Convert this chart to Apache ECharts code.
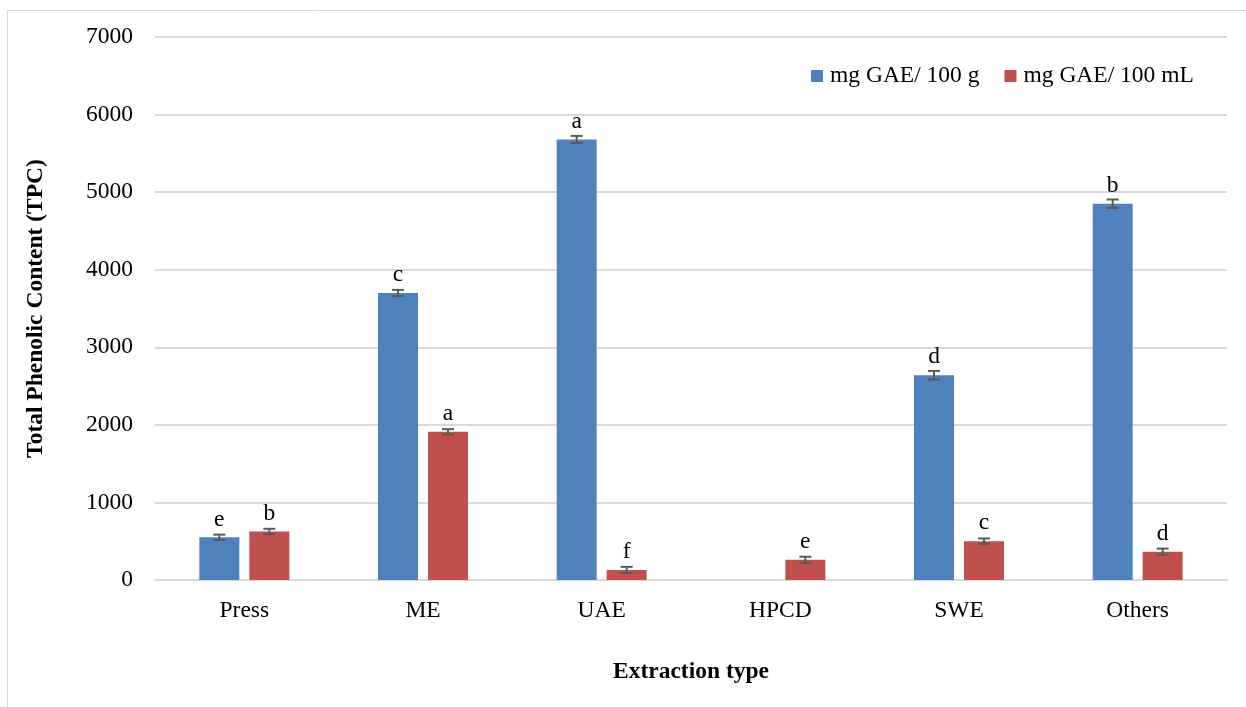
<!DOCTYPE html>
<html>
<head>
<meta charset="utf-8">
<script src="https://cdn.jsdelivr.net/npm/echarts@6/dist/echarts.min.js"></script>
<style>
  html, body { margin: 0; padding: 0; background: #fff; }
  #chart { width: 1246px; height: 707px; }
</style>
</head>
<body>
<div id="chart"></div>
<script>
// Extraction methods on the category axis
const categories = ['Press', 'ME', 'UAE', 'HPCD', 'SWE', 'Others'];

// Total phenolic content per method (null = not measured)
const perGram = [550, 3700, 5680, null, 2640, 4850];     // mg GAE/ 100 g
const perMl = [625, 1910, 130, 260, 500, 365];           // mg GAE/ 100 mL

// Standard deviations for the error bars
const perGramErr = [35, 40, 45, null, 55, 55];
const perMlErr = [35, 35, 40, 40, 35, 40];

// Significance letters above each bar
const perGramLetters = ['e', 'c', 'a', '', 'd', 'b'];
const perMlLetters = ['b', 'a', 'f', 'e', 'c', 'd'];

// Value axis ticks
const yMin = 0, yMax = 7000, yStep = 1000;

const seriesNames = ['mg GAE/ 100 g', 'mg GAE/ 100 mL'];

const FONT = '"Liberation Serif", "Times New Roman", serif';
const FS = 23.5;
const BAR_W = 40;
const BAR_GAP = 10;
const OFFSET = (BAR_W + BAR_GAP) / 2;

function errData(vals, errs) {
  return vals.map((v, i) => (v == null || errs[i] == null) ? [i, '-', '-'] : [i, v, errs[i]]);
}

function errorBar(shift) {
  return function (params, api) {
    const v = api.value(1), e = api.value(2);
    if (isNaN(v) || isNaN(e)) return null;
    const idx = api.value(0);
    const hi = api.coord([idx, v + e]);
    const lo = api.coord([idx, v - e]);
    const x = hi[0] + shift;
    const cap = 6;
    const style = { stroke: '#595959', lineWidth: 2 };
    return {
      type: 'group',
      children: [
        { type: 'line', shape: { x1: x, y1: hi[1], x2: x, y2: lo[1] }, style },
        { type: 'line', shape: { x1: x - cap, y1: hi[1], x2: x + cap, y2: hi[1] }, style },
        { type: 'line', shape: { x1: x - cap, y1: lo[1], x2: x + cap, y2: lo[1] }, style }
      ]
    };
  };
}

function letterLabel(letters) {
  return {
    show: true,
    position: 'top',
    distance: 6,
    fontFamily: FONT,
    fontSize: FS,
    color: '#000',
    formatter: p => letters[p.dataIndex] || ''
  };
}

const chart = echarts.init(document.getElementById('chart'), null, { renderer: 'canvas' });

chart.setOption({
  animation: false,
  backgroundColor: '#fff',
  graphic: [{
    type: 'rect',
    shape: { x: 7.5, y: 10.5, width: 1400, height: 900 },
    style: { fill: 'none', stroke: '#d9d9d9', lineWidth: 1 },
    silent: true
  }],
  legend: {
    data: seriesNames,
    left: 811,
    top: 64,
    padding: 0,
    icon: 'rect',
    itemWidth: 12,
    itemHeight: 12,
    itemGap: 25,
    textStyle: { fontFamily: FONT, fontSize: FS, color: '#000', padding: [0, 0, 0, 2] }
  },
  grid: { left: 155, right: 19, top: 37, bottom: 127, containLabel: false },
  xAxis: {
    type: 'category',
    data: categories,
    name: 'Extraction type',
    nameLocation: 'middle',
    nameGap: 80,
    nameTextStyle: { fontFamily: FONT, fontSize: FS, fontWeight: 'bold', color: '#000' },
    axisLine: { show: true, lineStyle: { color: '#d9d9d9', width: 2 } },
    axisTick: { show: false },
    axisLabel: { fontFamily: FONT, fontSize: FS, color: '#000', margin: 19 }
  },
  yAxis: {
    type: 'value',
    min: yMin,
    max: yMax,
    interval: yStep,
    name: 'Total Phenolic Content (TPC)',
    nameLocation: 'middle',
    nameGap: 107,
    nameTextStyle: { fontFamily: FONT, fontSize: FS, fontWeight: 'bold', color: '#000' },
    axisLine: { show: false },
    axisTick: { show: false },
    axisLabel: {
      fontFamily: FONT, fontSize: FS, color: '#000', margin: 22,
      formatter: v => String(v)
    },
    splitLine: { show: true, lineStyle: { color: '#d9d9d9', width: 2 } }
  },
  series: [
    {
      name: seriesNames[0],
      type: 'bar',
      data: perGram.map(v => v == null ? '-' : v),
      barWidth: BAR_W,
      barGap: (BAR_GAP / BAR_W * 100) + '%',
      itemStyle: { color: '#4f81bd' },
      label: letterLabel(perGramLetters),
      z: 2
    },
    {
      name: seriesNames[1],
      type: 'bar',
      data: perMl,
      barWidth: BAR_W,
      itemStyle: { color: '#c0504d' },
      label: letterLabel(perMlLetters),
      z: 2
    },
    {
      type: 'custom',
      renderItem: errorBar(-OFFSET),
      data: errData(perGram, perGramErr),
      encode: { x: 0, y: [1, 2] },
      z: 5,
      silent: true
    },
    {
      type: 'custom',
      renderItem: errorBar(OFFSET),
      data: errData(perMl, perMlErr),
      encode: { x: 0, y: [1, 2] },
      z: 5,
      silent: true
    }
  ]
});
</script>
</body>
</html>
